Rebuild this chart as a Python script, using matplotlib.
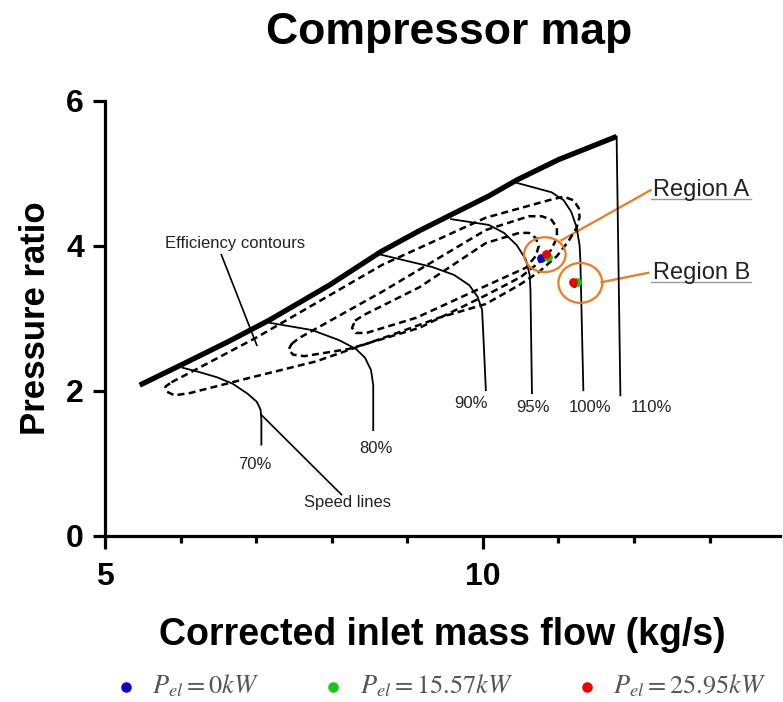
import matplotlib
matplotlib.use("Agg")
import matplotlib.pyplot as plt
from matplotlib.patches import Ellipse

plt.rcParams['font.family'] = ['Liberation Sans', 'DejaVu Sans']
plt.rcParams['mathtext.fontset'] = 'stix'

# surge line
surge_x = [5.46, 6.03, 6.65, 7.18, 7.97, 8.65, 9.16, 9.58, 10.08, 10.45, 11.00, 11.77]
surge_y = [2.08, 2.37, 2.69, 2.98, 3.46, 3.92, 4.21, 4.43, 4.69, 4.91, 5.19, 5.51]

# speed lines
speeds = ['70%', '80%', '90%', '95%', '100%', '110%']
speed_x = [
    [6.03, 6.25, 6.48, 6.69, 6.89, 7.01, 7.06, 7.07, 7.07],
    [7.18, 7.74, 8.10, 8.32, 8.44, 8.52, 8.55, 8.55],
    [8.65, 9.33, 9.62, 9.82, 9.93, 9.99, 10.01, 10.04],
    [9.58, 10.08, 10.28, 10.45, 10.57, 10.62, 10.63, 10.65],
    [10.45, 10.91, 11.07, 11.17, 11.24, 11.28, 11.29, 11.33],
    [11.77, 11.82],
]
speed_y = [
    [2.32, 2.26, 2.19, 2.10, 1.96, 1.85, 1.74, 1.60, 1.26],
    [2.94, 2.84, 2.70, 2.58, 2.46, 2.29, 2.08, 1.46],
    [3.88, 3.71, 3.60, 3.46, 3.30, 3.12, 2.70, 2.01],
    [4.37, 4.29, 4.18, 4.01, 3.81, 3.60, 3.39, 1.97],
    [4.87, 4.74, 4.63, 4.47, 4.26, 4.01, 3.81, 2.01],
    [5.51, 1.94],
]
speed_lab_x = [6.98, 8.59, 9.85, 10.67, 11.42, 12.23]
speed_lab_y = [0.98, 1.21, 1.83, 1.77, 1.77, 1.77]

# efficiency contours (outer, middle, inner)
eff_x = [
    [5.88, 6.12, 7.01, 8.67, 10.04, 10.87, 11.07, 11.20, 11.27, 11.28, 11.24,
     11.13, 10.98, 10.74, 10.48, 10.04, 9.42, 8.76, 7.80, 6.91, 6.12, 5.92,
     5.82, 5.80, 5.88],
    [7.47, 7.57, 8.67, 10.04, 10.61, 10.78, 10.91, 10.98, 10.98, 10.90, 10.74,
     10.50, 10.04, 9.16, 8.23, 7.64, 7.49, 7.43, 7.47],
    [8.31, 8.43, 9.16, 10.04, 10.48, 10.61, 10.70, 10.74, 10.70, 10.57, 10.04,
     9.12, 8.46, 8.32, 8.27, 8.31],
]
eff_y = [
    [2.12, 2.25, 2.74, 3.74, 4.39, 4.63, 4.68, 4.63, 4.52, 4.40, 4.25,
     4.06, 3.86, 3.64, 3.46, 3.20, 3.01, 2.76, 2.41, 2.18, 1.97, 1.94,
     1.99, 2.06, 2.12],
    [2.65, 2.73, 3.37, 4.22, 4.41, 4.41, 4.36, 4.25, 4.11, 3.94, 3.77,
     3.57, 3.32, 2.87, 2.58, 2.48, 2.50, 2.57, 2.65],
    [2.97, 3.05, 3.43, 4.04, 4.18, 4.18, 4.11, 4.00, 3.86, 3.70, 3.45,
     3.01, 2.80, 2.80, 2.87, 2.97],
]

# operating points
pel_labels = [r'$P_{el}=0kW$', r'$P_{el}=15.57kW$', r'$P_{el}=25.95kW$']
pel_colors = ['#0a0ac8', '#14c814', '#f00000']
pel_x = [[10.77, 11.21], [10.86, 11.24], [10.83, 11.19]]
pel_y = [[3.83, 3.49], [3.85, 3.50], [3.89, 3.50]]

orange = '#f07a1e'

fig = plt.figure(figsize=(7.83, 7.02), dpi=100)
ax = fig.add_axes([0.134, 0.2365, 0.862, 0.6197])

ax.plot(surge_x, surge_y, color='black', lw=3.8, solid_capstyle='butt',
        solid_joinstyle='round', zorder=4)
for xs, ys in zip(speed_x, speed_y):
    ax.plot(xs, ys, color='black', lw=1.3, solid_joinstyle='round', zorder=3)
for lab, lx, ly in zip(speeds, speed_lab_x, speed_lab_y):
    ax.text(lx, ly, lab, fontsize=12, ha='center', va='center', color='#222222')

for xs, ys in zip(eff_x, eff_y):
    ax.plot(xs, ys, color='black', lw=1.8, linestyle=(0, (2.8, 1.7)), zorder=3)

# annotations
ax.text(6.72, 4.04, 'Efficiency contours', fontsize=12, ha='center', va='center', color='#222222')
ax.plot([6.54, 7.01], [3.88, 2.63], color='black', lw=1.2)
ax.text(8.21, 0.46, 'Speed lines', fontsize=12, ha='center', va='center', color='#222222')
ax.plot([8.13, 7.07], [0.57, 1.67], color='black', lw=1.2)

ax.add_patch(Ellipse((10.82, 3.88), 0.55, 0.48, fill=False, ec=orange, lw=1.6, zorder=6))
ax.add_patch(Ellipse((11.29, 3.49), 0.58, 0.55, fill=False, ec=orange, lw=1.6, zorder=6))
ax.plot([11.04, 12.22], [4.08, 4.77], color=orange, lw=1.6)
ax.plot([11.57, 12.19], [3.50, 3.63], color=orange, lw=1.6)
ax.text(12.25, 4.69, 'Region A', fontsize=17, ha='left', va='baseline', color='#222222')
ax.plot([12.22, 13.55], [4.65, 4.65], color='#999999', lw=1.0)
ax.text(12.25, 3.54, 'Region B', fontsize=17, ha='left', va='baseline', color='#222222')
ax.plot([12.22, 13.55], [3.50, 3.50], color='#999999', lw=1.0)

for lab, c, xs, ys in zip(pel_labels, pel_colors, pel_x, pel_y):
    ax.scatter(xs, ys, s=40, color=c, label=lab, zorder=7, linewidths=0)

ax.set_xlim(5, 13.93)
ax.set_ylim(0, 6)
ax.set_xticks([5, 10])
ax.set_xticks([6, 7, 8, 9, 11, 12, 13], minor=True)
ax.set_yticks([0, 2, 4, 6])
for s in ['top', 'right']:
    ax.spines[s].set_visible(False)
for s in ['left', 'bottom']:
    ax.spines[s].set_linewidth(2.3)
ax.tick_params(which='major', length=9, width=2.3, labelsize=23, pad=6)
ax.tick_params(axis='x', which='major', pad=10)
ax.tick_params(which='minor', length=5, width=2.3)
for t in ax.get_xticklabels() + ax.get_yticklabels():
    t.set_fontweight('bold')

ax.set_xlabel('Corrected inlet mass flow (kg/s)', fontsize=27, fontweight='bold', labelpad=18)
ax.set_ylabel('Pressure ratio', fontsize=25, fontweight='bold', labelpad=10)
fig.text(0.573, 0.953, 'Compressor map', fontsize=32, fontweight='bold', ha='center', va='center')

fig.legend(loc='center', bbox_to_anchor=(0.553, 0.023), ncol=3, frameon=False,
           fontsize=19, labelcolor='#555555', handletextpad=0.0, columnspacing=1.8,
           markerscale=1.2)

fig.savefig('out.png', dpi=100)
